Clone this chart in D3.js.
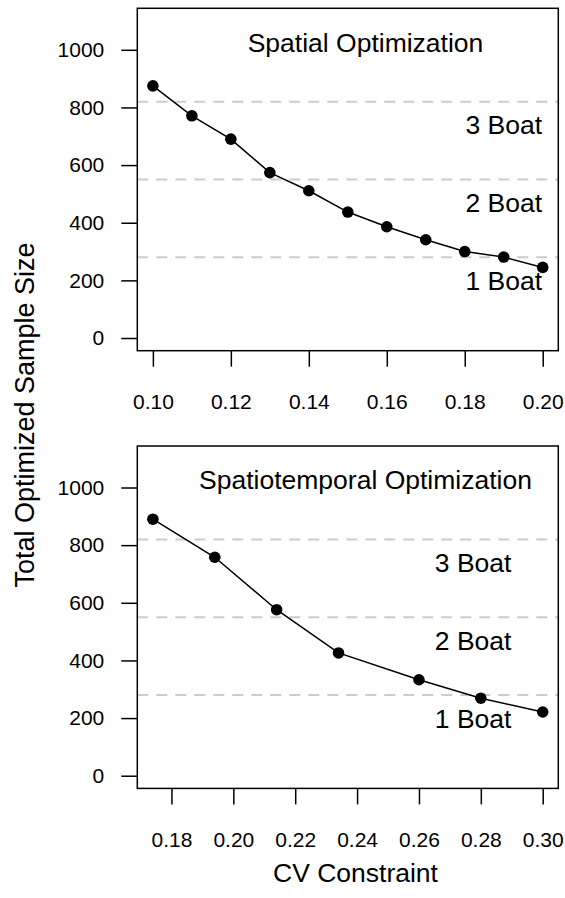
<!DOCTYPE html>
<html>
<head>
<meta charset="utf-8">
<style>
  body { margin: 0; background: #fff; }
  svg { display: block; font-family: "Liberation Sans", Arial, sans-serif; }
</style>
</head>
<body>
<svg></svg>
<script src="https://d3js.org/d3.v7.min.js"></script>
<script>

// data
const spatialCV = [0.10, 0.11, 0.12, 0.13, 0.14, 0.15, 0.16, 0.17, 0.18, 0.19, 0.20];
const spatialN  = [875, 771, 690, 574, 511, 437, 386, 341, 300, 281, 245];
const temporalCV = [0.174, 0.194, 0.214, 0.234, 0.26, 0.28, 0.30];
const temporalN  = [890, 758, 576, 426, 333, 269, 221];

const spatialTicks  = [0.10, 0.12, 0.14, 0.16, 0.18, 0.20];
const temporalTicks = [0.18, 0.20, 0.22, 0.24, 0.26, 0.28, 0.30];
const yTicks = [0, 200, 400, 600, 800, 1000];

const boatCutoffs = [820, 550, 280];
const boatLabels  = ["3 Boat", "2 Boat", "1 Boat"];
const boatLabelN  = [740, 470, 200];

const width = 565, height = 898;
const left = 137.3, right = 558.3;
const panelH = 342.4, panelGap = 437.7, firstTop = 8.3;

const svg = d3.select("svg")
    .attr("width", width)
    .attr("height", height)
    .attr("viewBox", [0, 0, width, height]);

// R-style 4% padding on both ends
function padded(lo, hi) {
  const d = (hi - lo) * 0.04;
  return [lo - d, hi + d];
}

function drawPanel(top, xs, ys, ticks, title, labelX) {
  const x = d3.scaleLinear()
      .domain(padded(d3.min(xs), d3.max(xs)))
      .range([left, right]);
  const y = d3.scaleLinear()
      .domain(padded(0, 1100))
      .range([top + panelH, top]);

  const g = svg.append("g");

  // boat cut-off lines
  g.selectAll("line.cut")
    .data(boatCutoffs)
    .join("line")
      .attr("class", "cut")
      .attr("x1", left).attr("x2", right)
      .attr("y1", d => y(d)).attr("y2", d => y(d))
      .attr("stroke", "#cccccc")
      .attr("stroke-width", 2)
      .attr("stroke-dasharray", "11,8");

  // y axis
  const yAxis = g.append("g")
      .attr("transform", `translate(${left},0)`)
      .call(d3.axisLeft(y).tickValues(yTicks).tickSize(16).tickPadding(17).tickFormat(d3.format("d")));
  yAxis.select(".domain").remove();
  yAxis.selectAll(".tick line").attr("stroke", "#000").attr("stroke-width", 1.5);
  yAxis.selectAll(".tick text")
      .attr("font-size", 21)
      .attr("font-family", "Liberation Sans, Arial, sans-serif")
      .attr("fill", "#000");

  // x axis
  const xAxis = g.append("g")
      .attr("transform", `translate(0,${top + panelH})`)
      .call(d3.axisBottom(x).tickValues(ticks).tickSize(16).tickFormat(d3.format(".2f")));
  xAxis.select(".domain").remove();
  xAxis.selectAll(".tick line").attr("stroke", "#000").attr("stroke-width", 1.5);
  xAxis.selectAll(".tick text")
      .attr("y", 58.6)
      .attr("dy", null)
      .attr("font-size", 21)
      .attr("font-family", "Liberation Sans, Arial, sans-serif")
      .attr("fill", "#000");

  // line + points
  const pts = xs.map((v, i) => [v, ys[i]]);
  g.append("path")
      .datum(pts)
      .attr("fill", "none")
      .attr("stroke", "#000")
      .attr("stroke-width", 1.5)
      .attr("d", d3.line().x(d => x(d[0])).y(d => y(d[1])));
  g.selectAll("circle")
    .data(pts)
    .join("circle")
      .attr("cx", d => x(d[0]))
      .attr("cy", d => y(d[1]))
      .attr("r", 5.8)
      .attr("fill", "#000");

  // boat labels
  g.selectAll("text.boat")
    .data(boatLabels)
    .join("text")
      .attr("class", "boat")
      .attr("x", x(labelX))
      .attr("y", (d, i) => y(boatLabelN[i]) + 9.5)
      .attr("text-anchor", "middle")
      .attr("font-size", 26.5)
      .text(d => d);

  g.append("text")
      .attr("x", 365.5)
      .attr("y", top + 43.4)
      .attr("text-anchor", "middle")
      .attr("font-size", 26.5)
      .text(title);

  // frame
  g.append("rect")
      .attr("x", left).attr("y", top)
      .attr("width", right - left).attr("height", panelH)
      .attr("fill", "none")
      .attr("stroke", "#000")
      .attr("stroke-width", 1.5);
}

drawPanel(firstTop, spatialCV, spatialN, spatialTicks, "Spatial Optimization", 0.19);
drawPanel(firstTop + panelGap, temporalCV, temporalN, temporalTicks, "Spatiotemporal Optimization", 0.2775);

svg.append("text")
    .attr("transform", "translate(33.5,415) rotate(-90)")
    .attr("text-anchor", "middle")
    .attr("font-size", 27)
    .text("Total Optimized Sample Size");

svg.append("text")
    .attr("x", 355.5)
    .attr("y", 881.5)
    .attr("text-anchor", "middle")
    .attr("font-size", 26.5)
    .text("CV Constraint");

</script>
</body>
</html>
